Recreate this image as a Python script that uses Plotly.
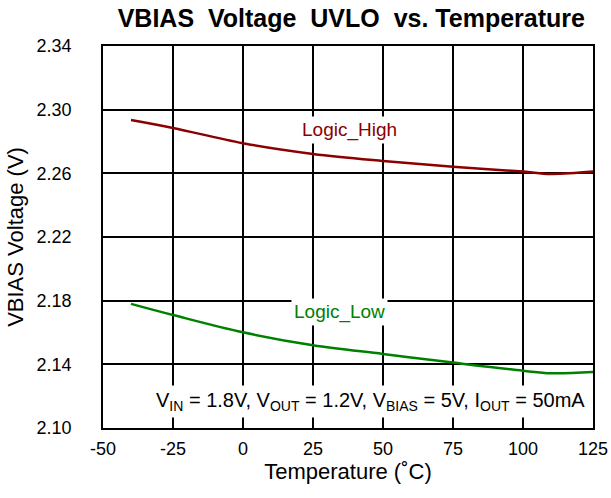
import plotly.graph_objects as go

# temperature (C) and UVLO thresholds (V)
temp = [-40, -25, 0, 25, 50, 75, 100, 110, 125]
logic_high = [2.2935, 2.2885, 2.2789, 2.2722, 2.2678, 2.2642, 2.2611, 2.2596, 2.2611]
logic_low = [2.1780, 2.1710, 2.1601, 2.1520, 2.1465, 2.1411, 2.1360, 2.1344, 2.1352]

x_ticks = [-50, -25, 0, 25, 50, 75, 100, 125]
y_ticks = [2.10, 2.14, 2.18, 2.22, 2.26, 2.30, 2.34]

FONT = "Liberation Sans, Arial, sans-serif"

fig = go.Figure()
fig.add_trace(go.Scatter(x=temp, y=logic_high, mode="lines", line=dict(color="#8b0000", width=2.5, shape="spline"),
                         name="Logic_High", showlegend=False))
fig.add_trace(go.Scatter(x=temp, y=logic_low, mode="lines", line=dict(color="#008000", width=2.5, shape="spline"),
                         name="Logic_Low", showlegend=False))

fig.add_annotation(x=38.2, y=2.2872, text="Logic_High", showarrow=False, font=dict(size=19, color="#8b0000", family=FONT),
                   bgcolor="white", borderpad=2)
fig.add_annotation(x=34.3, y=2.1729, text="Logic_Low", showarrow=False, font=dict(size=19, color="#008000", family=FONT),
                   bgcolor="white", borderpad=2)
fig.add_annotation(x=123.4, y=2.1164, xanchor="right",
                   text="V<sub>IN</sub> = 1.8V, V<sub>OUT</sub> = 1.2V, V<sub>BIAS</sub> = 5V, I<sub>OUT</sub> = 50mA",
                   showarrow=False, font=dict(size=20, color="black", family=FONT), bgcolor="white", borderpad=3)

axis_common = dict(showgrid=True, gridcolor="black", gridwidth=1.5, showline=True, linecolor="black", linewidth=1.5,
                   mirror=True, zeroline=False, ticks="", automargin=False,
                   tickfont=dict(size=18, color="black", family=FONT))

fig.update_layout(
    width=611, height=498,
    title=dict(text="<b>VBIAS  Voltage  UVLO  vs. Temperature</b>", x=0.575, xanchor="center", y=0.963, yanchor="middle",
               font=dict(size=25, color="black", family=FONT)),
    paper_bgcolor="white", plot_bgcolor="white",
    margin=dict(l=103, r=18, t=46, b=70),
    xaxis=dict(axis_common, range=[-50, 125], tickvals=x_ticks, ticktext=[str(v) for v in x_ticks], ticklabelstandoff=4,
               title=dict(text="Temperature (˚C)", font=dict(size=22, color="black", family=FONT), standoff=0)),
    yaxis=dict(axis_common, range=[2.10, 2.34], tickvals=y_ticks, tickformat=".2f", ticklabelstandoff=26,
               title=dict(text="VBIAS Voltage (V)", font=dict(size=22, color="black", family=FONT), standoff=7)),
)

# drop the default 8px body margin so the figure fills the window
fig.write_html("out.html", config={"displayModeBar": False}, post_script="document.body.style.margin='0';")
